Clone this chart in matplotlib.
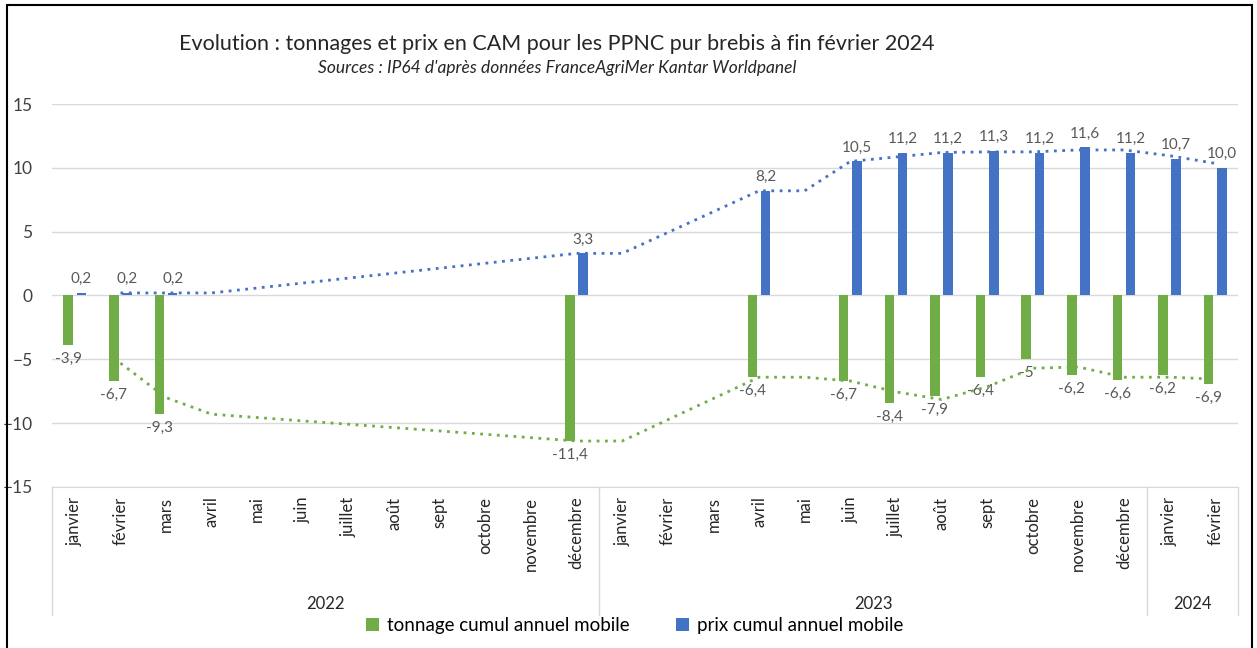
import matplotlib.pyplot as plt
import numpy as np
from matplotlib.patches import Rectangle

plt.rcParams['font.family'] = ['Lato', 'DejaVu Sans']

# months Jan 2022 -> Feb 2024
months = ['janvier', 'février', 'mars', 'avril', 'mai', 'juin', 'juillet', 'août',
          'sept', 'octobre', 'novembre', 'décembre',
          'janvier', 'février', 'mars', 'avril', 'mai', 'juin', 'juillet', 'août',
          'sept', 'octobre', 'novembre', 'décembre',
          'janvier', 'février']
years = ['2022', '2023', '2024']
year_sizes = [12, 12, 2]

N = None
tonnage = [-3.9, -6.7, -9.3, N, N, N, N, N, N, N, N, -11.4,
           N, N, N, -6.4, N, -6.7, -8.4, -7.9, -6.4, -5.0, -6.2, -6.6,
           -6.2, -6.9]
prix = [0.2, 0.2, 0.2, N, N, N, N, N, N, N, N, 3.3,
        N, N, N, 8.2, N, 10.5, 11.2, 11.2, 11.3, 11.2, 11.6, 11.2,
        10.7, 10.0]
tonnage_labels = ['-3,9', '-6,7', '-9,3', '', '', '', '', '', '', '', '', '-11,4',
                  '', '', '', '-6,4', '', '-6,7', '-8,4', '-7,9', '-6,4', '-5', '-6,2', '-6,6',
                  '-6,2', '-6,9']
prix_labels = ['0,2', '0,2', '0,2', '', '', '', '', '', '', '', '', '3,3',
               '', '', '', '8,2', '', '10,5', '11,2', '11,2', '11,3', '11,2', '11,6', '11,2',
               '10,7', '10,0']

# dotted trend lines
trend_tonnage = [N, -5.3, -8.0, -9.3, N, N, N, N, N, N, N, -11.4,
                 -11.4, N, N, -6.4, -6.4, -6.7, -7.55, -8.15, -7.15, -5.7, -5.6, -6.4,
                 -6.4, -6.55]
trend_prix = [N, 0.2, 0.2, 0.2, N, N, N, N, N, N, N, 3.3,
              3.3, N, N, 8.2, 8.2, 10.5, 10.85, 11.2, 11.25, 11.25, 11.4, 11.4,
              10.95, 10.35]

green = '#70AD47'
blue = '#4472C4'
lab_col = '#595959'

fig = plt.figure(figsize=(12.57, 6.48), dpi=100)
ax = fig.add_axes([0.0414, 0.2485, 0.9435, 0.591])

x = np.arange(len(months))
w = 0.21
off = 0.145

def valid(vals):
    idx = [i for i, v in enumerate(vals) if v is not None]
    return np.array(idx), np.array([vals[i] for i in idx])

xt, yt = valid(tonnage)
xp, yp = valid(prix)
ax.bar(xt - off, yt, width=w, color=green, zorder=3, label='tonnage cumul annuel mobile')
ax.bar(xp + off, yp, width=w, color=blue, zorder=3, label='prix cumul annuel mobile')

for i, v in zip(xt, yt):
    ax.annotate(tonnage_labels[i], (i - off, v), xytext=(0, -5), textcoords='offset points',
                ha='center', va='top', fontsize=11, color=lab_col)
for i, v in zip(xp, yp):
    ax.annotate(prix_labels[i], (i + off, v), xytext=(0, 5), textcoords='offset points',
                ha='center', va='bottom', fontsize=11, color=lab_col)

xa, ya = valid(trend_tonnage)
ax.plot(xa, ya, linestyle=(0, (1, 2)), color=green, lw=2, zorder=4)
xb, yb = valid(trend_prix)
ax.plot(xb, yb, linestyle=(0, (1, 2)), color=blue, lw=2, zorder=4)

ax.set_xlim(-0.5, len(months) - 0.5)
ax.set_ylim(-15, 15)
ax.set_yticks(np.arange(-15, 16, 5))
ax.grid(axis='y', color='#d9d9d9', lw=1, zorder=0)
for s in ['top', 'right', 'left']:
    ax.spines[s].set_visible(False)
ax.spines['bottom'].set_color('#d9d9d9')
ax.tick_params(axis='y', length=0, labelsize=12.5, pad=14, colors='#404040')
ax.tick_params(axis='x', length=0)
ax.set_xticks([])

# multi-level category axis
trans = ax.get_xaxis_transform()
for i, m in enumerate(months):
    ax.text(i, -0.025, m, transform=trans, rotation=90, ha='center', va='top',
            fontsize=12, color='#262626')
bounds = np.concatenate([[0], np.cumsum(year_sizes)]) - 0.5
for b in bounds:
    ax.plot([b, b], [0, -0.334], transform=trans, color='#d9d9d9', lw=1, clip_on=False)
for k, yr in enumerate(years):
    ax.text((bounds[k] + bounds[k + 1]) / 2, -0.305, yr, transform=trans, ha='center',
            va='center', fontsize=12, color='#262626')

fig.text(0.443, 0.932, 'Evolution : tonnages et prix en CAM pour les PPNC pur brebis à fin février 2024',
         ha='center', va='center', fontsize=15.5, color='#262626')
fig.text(0.443, 0.895, "Sources : IP64 d'après données FranceAgriMer Kantar Worldpanel",
         ha='center', va='center', fontsize=12.5, style='italic', color='#262626')

fig.legend(loc='center', bbox_to_anchor=(0.505, 0.035), ncol=2, frameon=False,
           fontsize=13.5, handlelength=0.7, handleheight=0.7, handletextpad=0.4,
           columnspacing=2.5)

fig.patches.append(Rectangle((7 / 1257, -0.02), 1245 / 1257, 1.02 - 5 / 648,
                             transform=fig.transFigure, fill=False, edgecolor='black', lw=1.5))

fig.savefig('out.png', dpi=100)
